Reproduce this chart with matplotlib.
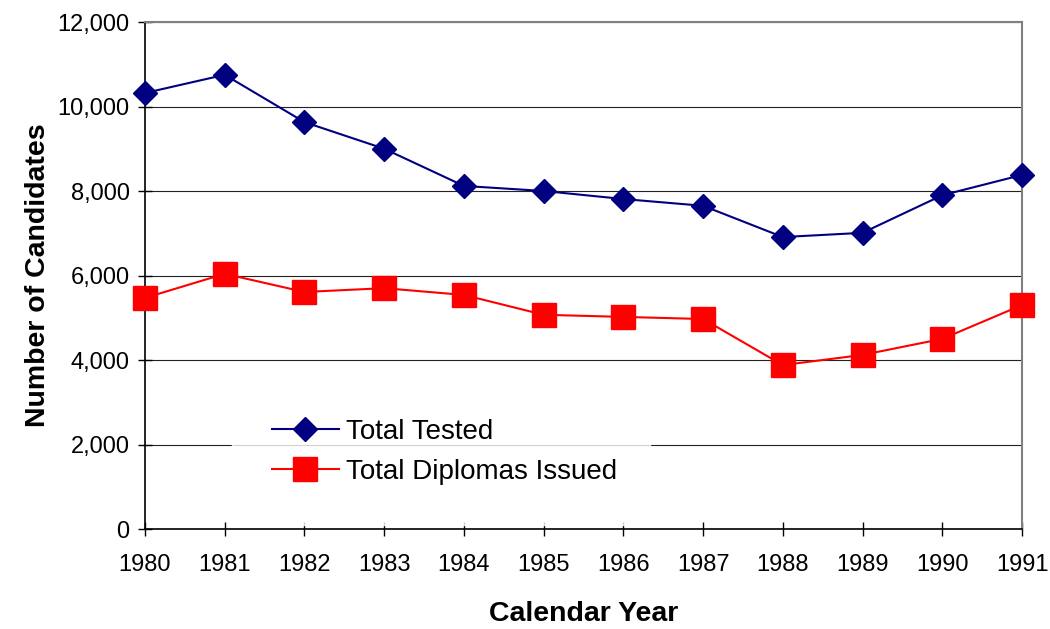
import matplotlib
matplotlib.use("Agg")
import matplotlib.pyplot as plt
from matplotlib.ticker import FuncFormatter

years = [1980, 1981, 1982, 1983, 1984, 1985, 1986, 1987, 1988, 1989, 1990, 1991]
total_tested = [10320, 10750, 9630, 9000, 8120, 8000, 7810, 7650, 6910, 7010, 7900, 8380]
diplomas_issued = [5470, 6040, 5610, 5700, 5540, 5070, 5020, 4970, 3880, 4120, 4500, 5300]
series_labels = ["Total Tested", "Total Diplomas Issued"]
x_label = "Calendar Year"
y_label = "Number of Candidates"

plt.rcParams['font.family'] = ['Liberation Sans', 'DejaVu Sans']

fig = plt.figure(figsize=(10.5, 6.29), dpi=100)
ax = fig.add_axes([145/1050, 1-529/629, (1022-145)/1050, (529-22)/629])

ax.plot(years, total_tested, color='#000080', lw=1.5, marker='D', ms=12,
        label=series_labels[0], zorder=3, clip_on=False)
ax.plot(years, diplomas_issued, color='#FF0000', lw=1.5, marker='s', ms=17,
        label=series_labels[1], zorder=3, clip_on=False)

ax.set_xlim(years[0], years[-1])
ax.set_ylim(0, 12000)
ax.set_xticks(years)
ax.set_yticks(range(0, 12001, 2000))
ax.yaxis.set_major_formatter(FuncFormatter(lambda v, p: f"{int(v):,}"))
ax.grid(axis='y', color='#222222', lw=0.8, zorder=0)
ax.set_axisbelow(True)

for s in ['left', 'bottom']:
    ax.spines[s].set_color('black')
    ax.spines[s].set_linewidth(1.2)
for s in ['top', 'right']:
    ax.spines[s].set_color('#808080')
    ax.spines[s].set_linewidth(1.5)

ax.tick_params(axis='both', direction='inout', length=10, width=1, labelsize=17)
ax.tick_params(axis='y', pad=6)
ax.tick_params(axis='x', pad=13)

ax.set_xlabel(x_label, fontsize=20.5, fontweight='bold', labelpad=18)
ax.set_ylabel(y_label, fontsize=20.5, fontweight='bold', labelpad=5)

leg = ax.legend(loc='center left', bbox_to_anchor=((232-145)/877, (529-452)/507, (650-232)/877, 0),
                mode='expand', frameon=True, fontsize=20, handlelength=2.4, handletextpad=0.27,
                borderpad=1.44, labelspacing=0.5, borderaxespad=0)
leg.get_frame().set_facecolor('white')
leg.get_frame().set_edgecolor('white')
leg.get_frame().set_boxstyle('square', pad=0)

fig.savefig("out.png", dpi=100, facecolor='white')
